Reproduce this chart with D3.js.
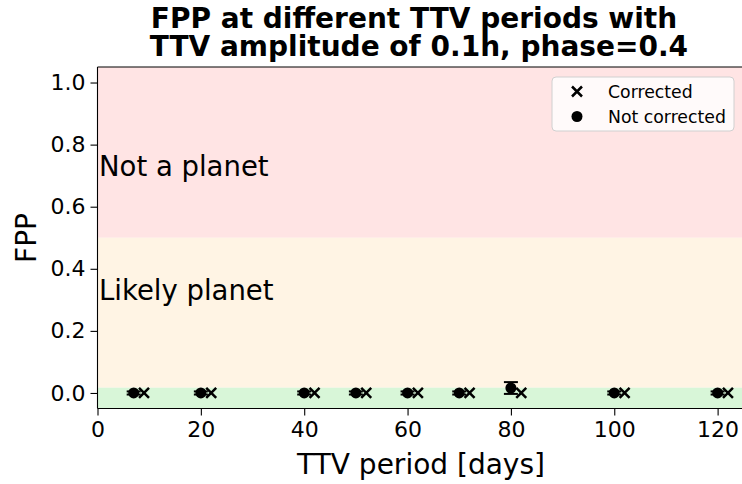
<!DOCTYPE html>
<html>
<head>
<meta charset="utf-8">
<script src="https://cdn.jsdelivr.net/npm/d3@7"></script>
<style>
  body { margin: 0; background: #fff; }
  text { font-family: "DejaVu Sans", sans-serif; fill: #000; }
</style>
</head>
<body>
<script>
// values
var periods = [7, 20, 40, 50, 60, 70, 80, 100, 120]
var fppNotCorrected = [0, 0, 0, 0, 0, 0, 0.016, 0, 0]
var errNotCorrected = [0.005, 0.005, 0.005, 0.005, 0.005, 0.005, 0.019, 0.005, 0.005]
var correctedPeriods = [9, 22, 42, 52, 62, 72, 82, 102, 122]
var fppCorrected = [0, 0, 0, 0, 0, 0, 0, 0, 0]
var xTicks = [0, 20, 40, 60, 80, 100, 120]
var yTicks = [0.0, 0.2, 0.4, 0.6, 0.8, 1.0]
var bands = [
  { from: 0.5, to: 1.05, color: '#ffe4e4', label: 'Not a planet', labelY: 0.7 },
  { from: 0.017, to: 0.5, color: '#fff4e4', label: 'Likely planet', labelY: 0.3 },
  { from: -0.05, to: 0.017, color: '#d8f6d8', label: null }
]

var width = 742
var height = 484
var margin = { left: 97.5, right: -3, top: 67, bottom: 75.5 }
var innerWidth = width - margin.left - margin.right
var innerHeight = height - margin.top - margin.bottom

var svg = d3.select('body').append('svg').attr('width', width).attr('height', height)
var g = svg.append('g').attr('transform', `translate(${margin.left}, ${margin.top})`)

var xScale = d3.scaleLinear().domain([0, 125.3]).range([0, innerWidth])
var yScale = d3.scaleLinear().domain([-0.05, 1.05]).range([innerHeight, 0])

// background bands
g.selectAll('rect.band').data(bands).enter().append('rect')
  .attr('class', 'band')
  .attr('x', 0).attr('width', innerWidth)
  .attr('y', d => yScale(d.to))
  .attr('height', d => yScale(d.from) - yScale(d.to))
  .attr('fill', d => d.color)

g.selectAll('text.bandlabel').data(bands.filter(d => d.label)).enter().append('text')
  .attr('class', 'bandlabel')
  .attr('x', 1.5)
  .attr('y', d => yScale(d.labelY))
  .attr('font-size', '27.5px')
  .text(d => d.label)

// axes
var xAxis = d3.axisBottom(xScale).tickValues(xTicks).tickFormat(d3.format('d')).tickSize(7).tickPadding(5)
var yAxis = d3.axisLeft(yScale).tickValues(yTicks).tickFormat(d3.format('.1f')).tickSize(7).tickPadding(5)

var gx = g.append('g').attr('transform', `translate(0,${innerHeight})`).call(xAxis)
var gy = g.append('g').call(yAxis)
;[gx, gy].forEach(a => {
  a.select('.domain').remove()
  a.selectAll('line').attr('stroke', '#000').attr('stroke-width', 1.1)
  a.selectAll('text').attr('font-family', '"DejaVu Sans", sans-serif').attr('fill', '#000').attr('font-size', '22px')
})
gx.selectAll('text').attr('dy', '0.75em')

// spines
g.append('line').attr('x1', 0).attr('x2', 0).attr('y1', 0).attr('y2', innerHeight).attr('stroke', '#000').attr('stroke-width', 1.1)
g.append('line').attr('x1', 0).attr('x2', innerWidth).attr('y1', innerHeight).attr('y2', innerHeight).attr('stroke', '#000').attr('stroke-width', 1.1)
g.append('line').attr('x1', 0).attr('x2', innerWidth).attr('y1', 0).attr('y2', 0).attr('stroke', '#000').attr('stroke-width', 1.1)

// not corrected: error bars + circles
var nc = periods.map((p, i) => ({ x: p, y: fppNotCorrected[i], e: errNotCorrected[i] }))
var cap = 7
var eb = g.append('g')
nc.forEach(d => {
  var cx = xScale(d.x)
  eb.append('line').attr('x1', cx).attr('x2', cx).attr('y1', yScale(d.y - d.e)).attr('y2', yScale(d.y + d.e)).attr('stroke', '#000').attr('stroke-width', 2)
  ;[d.y - d.e, d.y + d.e].forEach(v => {
    eb.append('line').attr('x1', cx - cap).attr('x2', cx + cap).attr('y1', yScale(v)).attr('y2', yScale(v)).attr('stroke', '#000').attr('stroke-width', 2)
  })
})
g.selectAll('circle.nc').data(nc).enter().append('circle')
  .attr('class', 'nc')
  .attr('cx', d => xScale(d.x)).attr('cy', d => yScale(d.y)).attr('r', 5.5).attr('fill', '#000')

// corrected: crosses
var cor = correctedPeriods.map((p, i) => ({ x: p, y: fppCorrected[i] }))
var s = 5
g.selectAll('path.cor').data(cor).enter().append('path')
  .attr('class', 'cor')
  .attr('transform', d => `translate(${xScale(d.x)},${yScale(d.y)})`)
  .attr('d', `M${-s},${-s}L${s},${s}M${-s},${s}L${s},${-s}`)
  .attr('stroke', '#000').attr('stroke-width', 2.5).attr('fill', 'none')

// legend
var lg = svg.append('g').attr('transform', 'translate(552,77)')
lg.append('rect').attr('width', 182).attr('height', 54).attr('rx', 4)
  .attr('fill', 'rgba(255,255,255,0.8)').attr('stroke', '#d0d0d0').attr('stroke-width', 1)
lg.append('path').attr('transform', 'translate(25,14.5)')
  .attr('d', `M${-s},${-s}L${s},${s}M${-s},${s}L${s},${-s}`)
  .attr('stroke', '#000').attr('stroke-width', 2.5)
lg.append('circle').attr('cx', 25).attr('cy', 39.5).attr('r', 5.5).attr('fill', '#000')
lg.append('text').attr('x', 56).attr('y', 20.5).attr('font-size', '17.3px').text('Corrected')
lg.append('text').attr('x', 56).attr('y', 45.5).attr('font-size', '17.3px').text('Not corrected')

// labels and title
svg.append('text').attr('x', 421).attr('y', 474).attr('text-anchor', 'middle').attr('font-size', '28px').text('TTV period [days]')
svg.append('text').attr('transform', 'translate(36,238) rotate(-90)').attr('text-anchor', 'middle').attr('font-size', '28px').text('FPP')
svg.append('text').attr('x', 414).attr('y', 28).attr('text-anchor', 'middle').attr('font-size', '28px').attr('font-weight', 'bold').text('FPP at different TTV periods with')
svg.append('text').attr('x', 414).attr('y', 56).attr('text-anchor', 'middle').attr('font-size', '28px').attr('font-weight', 'bold').style('white-space', 'pre').text(' TTV amplitude of 0.1h, phase=0.4')
</script>
</body>
</html>
